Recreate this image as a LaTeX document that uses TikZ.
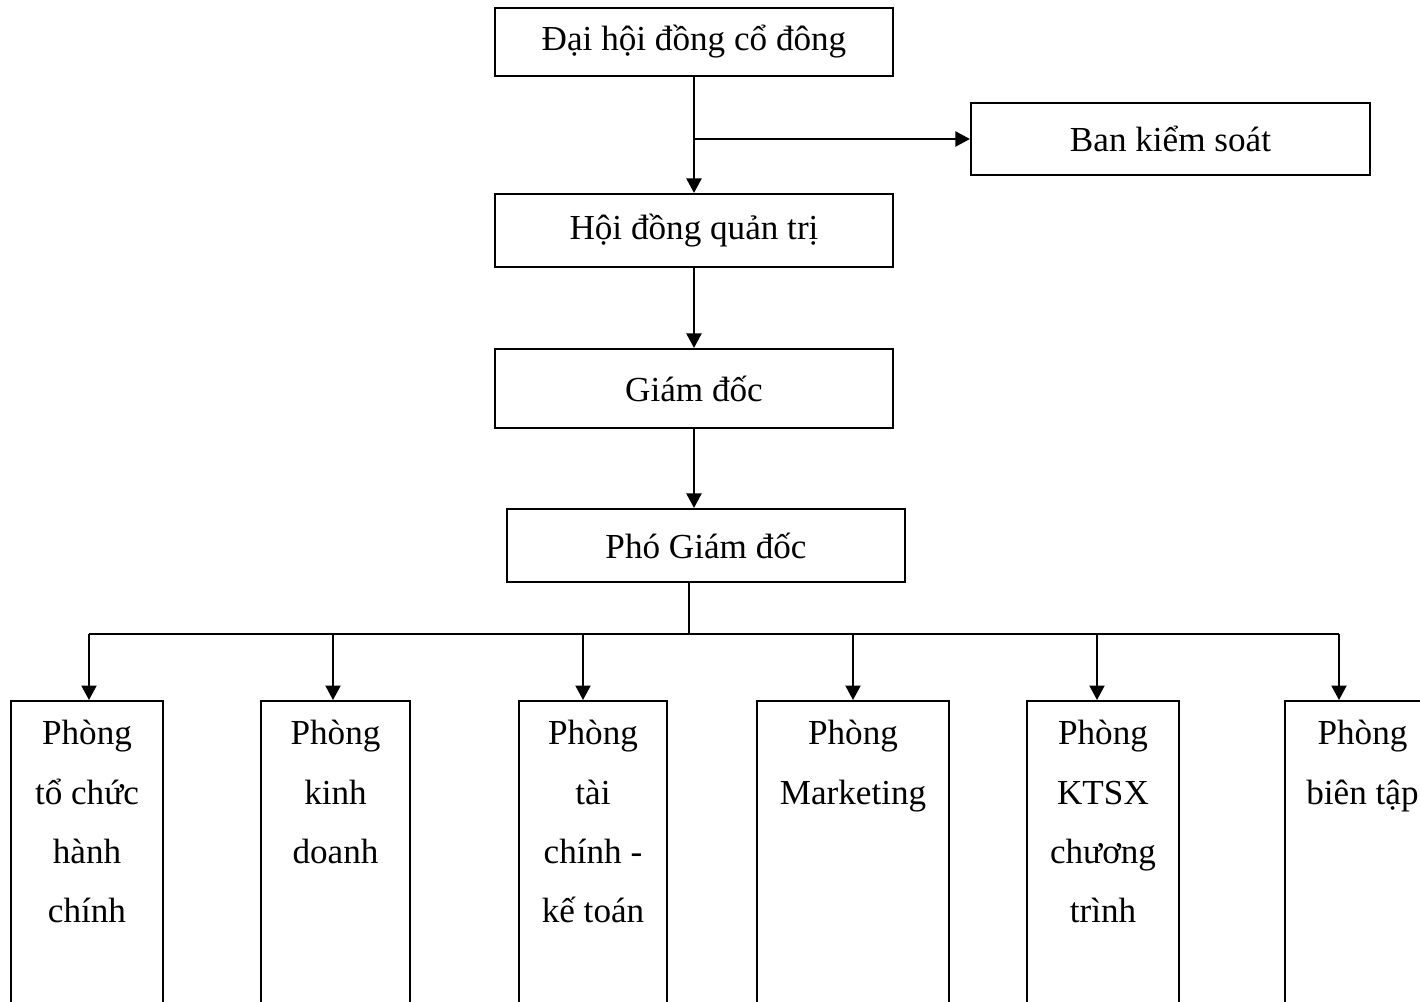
\documentclass[tikz,border=0pt]{standalone}
\usepackage{fontspec}
\setmainfont{Liberation Serif}
\usetikzlibrary{arrows.meta,positioning}
\tikzset{
  >={Triangle[length=2.9mm,width=3mm]},
  box/.style={draw,line width=1.2pt,minimum width=7.96cm,minimum height=#1,
    font=\fontsize{20}{24}\selectfont,inner sep=0pt},
  box/.default=1.46cm,
  dept/.style={draw,line width=1.2pt,minimum width=#1,minimum height=7cm,
    anchor=north,inner sep=0pt},
  dept/.default=3cm,
  dtext/.style={anchor=north,align=center,inner sep=0pt,
    font=\fontsize{20}{33.8}\selectfont},
  link/.style={line width=1.2pt},
  flow/.style={->,line width=1.2pt},
}
\begin{document}
\begin{tikzpicture}
  \useasboundingbox (0,0) rectangle (28.4,-20.02);
  % management chain
  \node[box=1.36cm] (dhcd) at (13.88,-0.84) {Đại hội đồng cổ đông};
  \node[box=1.44cm,minimum width=7.98cm] (bks) at (23.41,-2.78) {Ban kiểm soát};
  \node[box] (hdqt) at (13.88,-4.61) {Hội đồng quản trị};
  \node[box=1.58cm] (gd) at (13.88,-7.77) {Giám đốc};
  \node[box] (pgd) at (14.12,-10.91) {Phó Giám đốc};
  \draw[flow] (dhcd) -- (hdqt);
  \draw[flow] (dhcd.south |- bks.west) -- (bks.west);
  \draw[flow] (hdqt) -- (gd);
  \draw[flow] (gd) -- (gd |- pgd.north);
  % departments
  \node[dept=3.04cm] (p1) at (1.74,-14) {};
  \node[dept=2.98cm] (p2) at (6.71,-14) {};
  \node[dept=2.96cm] (p3) at (11.86,-14) {};
  \node[dept=3.84cm] (p4) at (17.06,-14) {};
  \node[dept=3.04cm] (p5) at (22.06,-14) {};
  \node[dept=3.10cm] (p6) at (27.25,-14) {};
  \node[dtext] (t1) at ([yshift=-4mm]p1.north) {Phòng\\tổ chức\\hành\\chính};
  \node[dtext] (t2) at ([yshift=-4mm]p2.north) {Phòng\\kinh\\doanh};
  \node[dtext] (t3) at ([yshift=-4mm]p3.north) {Phòng\\tài\\chính -\\kế toán};
  \node[dtext] (t4) at ([yshift=-4mm]p4.north) {Phòng\\Marketing};
  \node[dtext] (t5) at ([yshift=-4mm]p5.north) {Phòng\\KTSX\\chương\\trình};
  \node[dtext] (t6) at ([yshift=-4mm]p6.north) {Phòng\\biên tập};
  % bus
  \coordinate (bus) at (13.78,-12.68);
  \draw[link] (bus |- pgd.south) -- (bus);
  \foreach \x [count=\i] in {1.78,6.66,11.66,17.06,21.94,26.78}
    \coordinate (a\i) at (\x,-12.68);
  \draw[link] (a1) -- (a6);
  \foreach \i in {1,...,6}
    \draw[flow] (a\i) -- (a\i |- p\i.north);
\end{tikzpicture}
\end{document}
